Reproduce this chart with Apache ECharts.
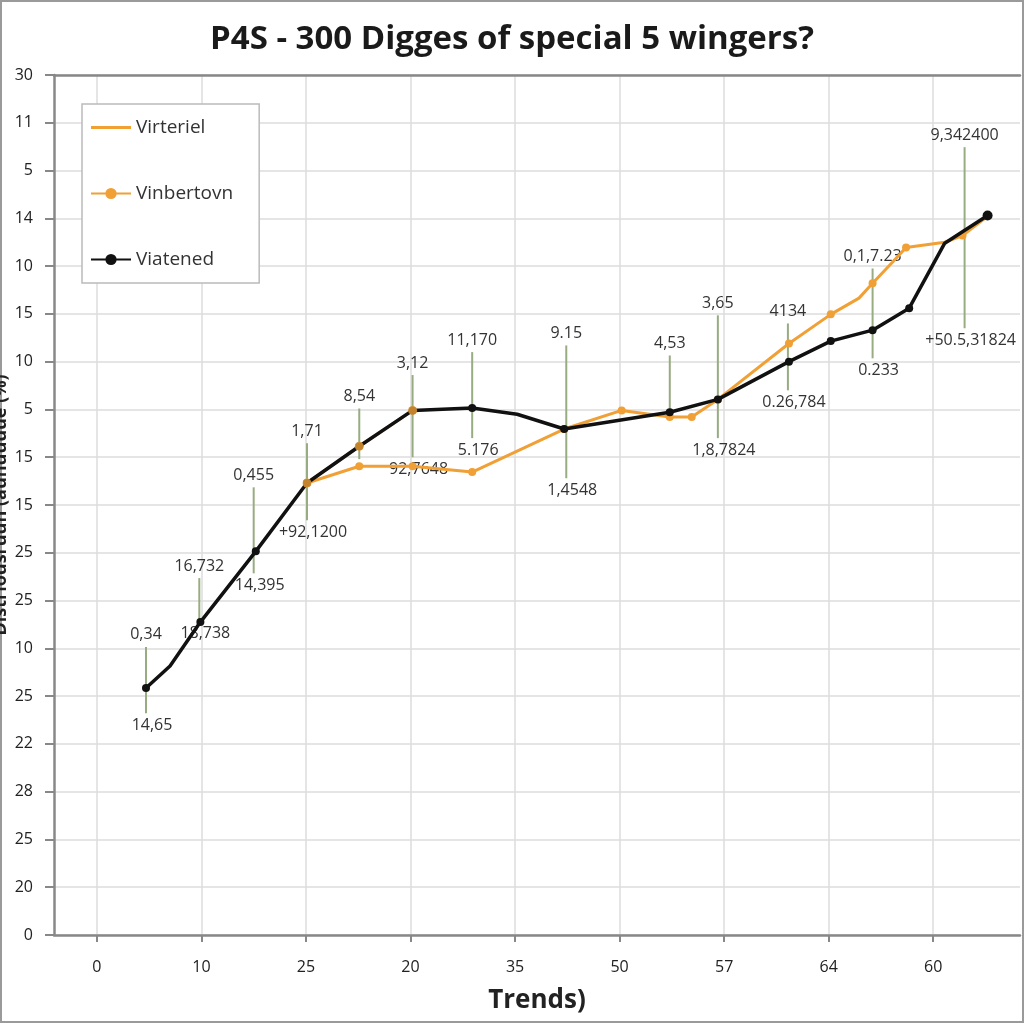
<!DOCTYPE html>
<html>
<head>
<meta charset="utf-8">
<script src="https://cdn.jsdelivr.net/npm/echarts@6/dist/echarts.min.js"></script>
<style>
  html, body { margin: 0; padding: 0; background: #fff; }
  #chart { width: 1024px; height: 1024px; }
</style>
</head>
<body>
<div id="chart"></div>
<script>
// axis tick labels (x by grid line index, y from bottom to top)
const xLabels = ['0', '10', '25', '20', '35', '50', '57', '64', '60']
const yLabels = ['0', '20', '25', '28', '22', '25', '10', '25', '25', '15', '15', '5', '10', '15', '10', '14', '5', '11', '30']

// series, [x index, y index]
const viatened = [
  [0.47, 5.17], [0.70, 5.63], [0.99, 6.55], [1.52, 8.03], [2.01, 9.46], [2.51, 10.23],
  [3.02, 10.98], [3.59, 11.03], [4.02, 10.90], [4.47, 10.59], [5.48, 10.94], [5.94, 11.21],
  [6.62, 12.0], [7.02, 12.43], [7.42, 12.66], [7.77, 13.12], [8.11, 14.48], [8.52, 15.06]
]
const viatenedKinks = [1, 8, 16]

const vinbertovn = [
  [2.01, 9.46], [2.51, 9.81], [3.02, 9.81], [3.59, 9.69], [4.47, 10.59], [5.02, 10.98],
  [5.48, 10.84], [5.69, 10.84], [5.94, 11.21], [6.62, 12.38], [7.02, 12.99], [7.29, 13.33],
  [7.42, 13.64], [7.61, 14.08], [7.74, 14.39], [8.11, 14.50], [8.28, 14.64], [8.52, 15.04]
]
const vinbertovnKinks = [11, 13, 15, 17]

const virteriel = [[2.01, 9.46], [2.51, 10.23], [3.02, 10.98]]

// green range marks: x, top, bottom, top label, bottom label
const rangeX = [0.47, 0.98, 1.50, 2.01, 2.51, 3.02, 3.59, 4.49, 5.48, 5.94, 6.61, 7.42, 8.30]
const rangeTop = [6.03, 7.47, 9.37, 10.29, 11.02, 11.72, 12.2, 12.34, 12.13, 12.97, 12.8, 13.95, 16.49]
const rangeBottom = [4.64, 6.57, 7.57, 8.68, 9.96, 10.0, 10.4, 9.56, 10.92, 10.4, 11.4, 12.07, 12.7]
const rangeTopText = ['0,34', '16,732', '0,455', '1,71', '8,54', '3,12', '11,170', '9.15', '4,53', '3,65', '4134', '0,1,7.23', '9,342400']
const rangeBottomText = ['14,65', '18,738', '14,395', '+92,1200', '', '92,7648', '5.176', '1,4548', '', '1,8,7824', '0.26,784', '0.233', '+50.5,31824']

const ticks = xLabels.map((_, i) => i)
const ranges = rangeX.map((x, i) => [x, rangeTop[i], rangeBottom[i], i])

const chart = echarts.init(document.getElementById('chart'))

const orange = '#F0A035'
const font = '"Open Sans", "Noto Sans", sans-serif'

const option = {
  backgroundColor: '#fff',
  animation: false,
  title: {
    text: 'P4S - 300 Digges of special 5 wingers?',
    left: 'center',
    top: 18,
    textStyle: { fontFamily: font, fontSize: 33, fontWeight: 'bold', color: '#1a1a1a' }
  },
  graphic: [{
    type: 'rect',
    shape: { x: 1, y: 1, width: 1022, height: 1021 },
    style: { fill: null, stroke: '#9a9a9a', lineWidth: 2 },
    silent: true
  }],
  legend: {
    orient: 'vertical',
    left: 82,
    top: 104,
    padding: [14, 26, 14, 8],
    itemGap: 47,
    itemWidth: 40,
    itemHeight: 14,
    backgroundColor: '#fff',
    borderColor: '#bbb',
    borderWidth: 1.5,
    textStyle: { fontFamily: font, fontSize: 19, color: '#333' },
    data: [
      { name: 'Virteriel', icon: 'path://M0,6 L40,6 L40,9 L0,9 Z' },
      { name: 'Vinbertovn' },
      { name: 'Viatened' }
    ]
  },
  grid: { left: 54, right: 4, top: 75, bottom: 89, outerBoundsMode: 'none' },
  xAxis: [{
    type: 'value',
    min: -0.41,
    max: 8.83,
    name: 'Trends)',
    nameLocation: 'middle',
    nameGap: 53,
    nameMoveOverlap: false,
    nameTextStyle: { fontFamily: font, fontSize: 26, fontWeight: 'bold', color: '#222' },
    axisLine: { onZero: false, lineStyle: { color: '#888', width: 2.5 } },
    axisTick: { customValues: ticks, length: 7, lineStyle: { color: '#888', width: 2 } },
    axisLabel: {
      customValues: ticks,
      margin: 24,
      fontFamily: font, fontSize: 16, color: '#222',
      formatter: v => xLabels[Math.round(v)]
    },
    splitLine: { show: true, lineStyle: { color: '#ddd', width: 1.5 } }
  }, {
    type: 'value',
    position: 'top',
    min: -0.41,
    max: 8.83,
    axisLine: { show: true, onZero: false, lineStyle: { color: '#888', width: 2.5 } },
    axisTick: { show: false },
    axisLabel: { show: false },
    splitLine: { show: false }
  }],
  yAxis: {
    type: 'value',
    min: 0,
    max: 18,
    interval: 1,
    name: 'Distriousruun (aunuuuue (%)',
    nameLocation: 'middle',
    nameGap: 44,
    nameMoveOverlap: false,
    nameTextStyle: { fontFamily: font, fontSize: 18, fontWeight: 'bold', color: '#222' },
    axisLine: { show: true, onZero: false, lineStyle: { color: '#888', width: 2.5 } },
    axisTick: { show: true, length: 9, lineStyle: { color: '#888', width: 2 } },
    axisLabel: {
      margin: 21,
      fontFamily: font, fontSize: 16, color: '#222',
      formatter: v => yLabels[Math.round(v)]
    },
    splitLine: { show: true, lineStyle: { color: '#ddd', width: 1.5 } }
  },
  series: [
    {
      name: 'Range',
      type: 'custom',
      z: 1,
      data: ranges,
      renderItem: (params, api) => {
        const x = api.value(0)
        const top = api.coord([x, api.value(1)])
        const bottom = api.coord([x, api.value(2)])
        const i = api.value(3)
        const children = [{
          type: 'line',
          shape: { x1: top[0], y1: top[1], x2: bottom[0], y2: bottom[1] },
          style: { stroke: '#98AC82', lineWidth: 2 }
        }, {
          type: 'text',
          style: {
            x: top[0], y: top[1] - 4, text: rangeTopText[i],
            align: 'center', verticalAlign: 'bottom',
            font: '16px ' + font, fill: '#333'
          }
        }]
        if (rangeBottomText[i]) {
          children.push({
            type: 'text',
            style: {
              x: bottom[0] + 6, y: bottom[1] + 4, text: rangeBottomText[i],
              align: 'center', verticalAlign: 'top',
              font: '16px ' + font, fill: '#333'
            }
          })
        }
        return { type: 'group', children }
      }
    },
    {
      name: 'Virteriel',
      type: 'line',
      z: 2,
      data: virteriel,
      symbol: 'none',
      itemStyle: { color: orange },
      lineStyle: { color: orange, width: 3 }
    },
    {
      name: 'Vinbertovn',
      type: 'line',
      z: 3,
      data: vinbertovn,
      symbol: 'circle',
      symbolSize: (v, p) => vinbertovnKinks.includes(p.dataIndex) ? 0 : 8,
      itemStyle: { color: orange },
      lineStyle: { color: orange, width: 3 }
    },
    {
      name: 'Viatened',
      type: 'line',
      z: 4,
      data: viatened,
      symbol: 'circle',
      symbolSize: (v, p) => viatenedKinks.includes(p.dataIndex) ? 0 : (p.dataIndex === viatened.length - 1 ? 10 : 8),
      itemStyle: { color: '#111' },
      lineStyle: { color: '#111', width: 3.5 }
    },
    {
      name: 'VirterielDots',
      type: 'scatter',
      z: 5,
      data: virteriel,
      symbolSize: 9,
      itemStyle: { color: orange }
    }
  ]
}

chart.setOption(option)
</script>
</body>
</html>
